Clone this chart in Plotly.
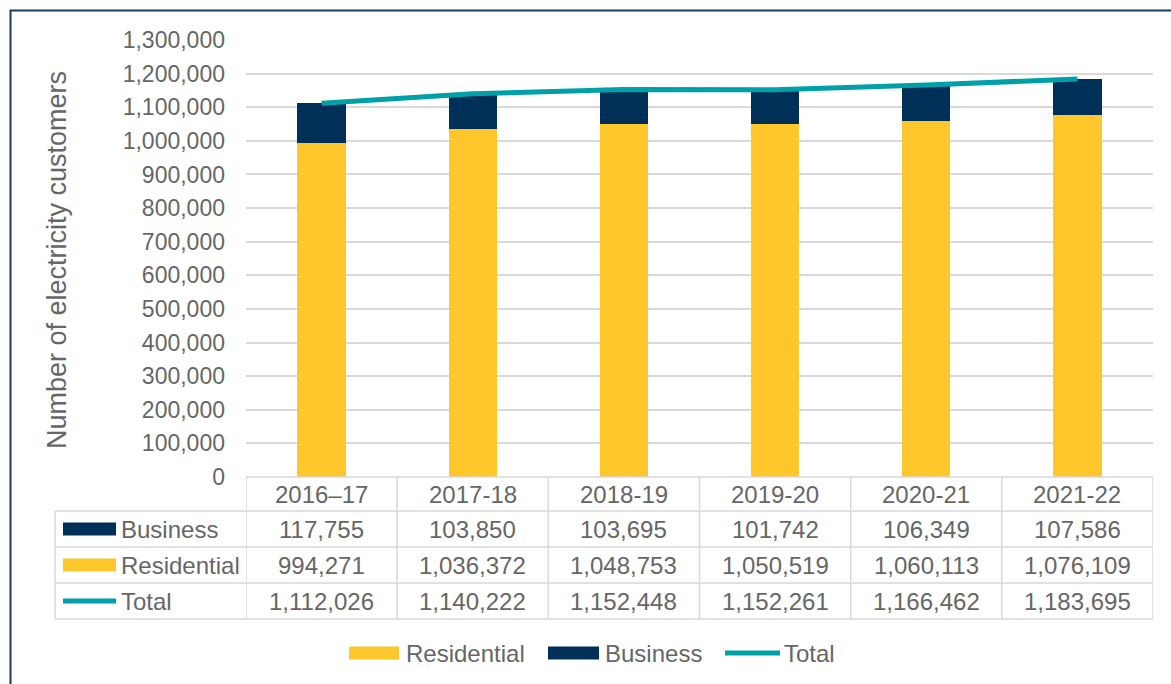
import plotly.graph_objects as go

# ---- data ----
categories = ["2016–17", "2017-18", "2018-19", "2019-20", "2020-21", "2021-22"]
business = [117755, 103850, 103695, 101742, 106349, 107586]
residential = [994271, 1036372, 1048753, 1050519, 1060113, 1076109]
total = [1112026, 1140222, 1152448, 1152261, 1166462, 1183695]
y_ticks = list(range(0, 1300001, 100000))

# ---- style ----
C_RES = "#FFC72C"
C_BUS = "#003057"
C_TOT = "#00A0A8"
C_TXT = "#666666"
C_GRID = "#D9D9D9"
C_FRAME = "#1B3A63"
FONT = "Liberation Sans, Arial, sans-serif"
FS = 23
FS_T = 24

W, H = 1171, 684
L, R, T, B = 246, 1153, 40, 477


def px2x(px):
    return (px - L) / (R - L)


def py2y(py):
    return (B - py) / (B - T)


fig = go.Figure()
fig.add_trace(go.Bar(x=categories, y=residential, name="Residential",
                     marker=dict(color=C_RES, line=dict(width=0))))
fig.add_trace(go.Bar(x=categories, y=business, name="Business",
                     marker=dict(color=C_BUS, line=dict(width=0))))
fig.add_trace(go.Scatter(x=categories, y=total, name="Total", mode="lines",
                         line=dict(color=C_TOT, width=5)))

shapes = []
annotations = []

# outer frame (cut off at right/bottom like the reference)
shapes.append(dict(type="rect", xref="paper", yref="paper",
                   x0=px2x(10.5), x1=px2x(1250), y0=py2y(760), y1=py2y(10.5),
                   line=dict(color=C_FRAME, width=2), layer="below"))

# table grid lines
tl = dict(color=C_GRID, width=1.5)
shapes.append(dict(type="line", xref="paper", yref="paper",
                   x0=px2x(L), x1=px2x(R), y0=py2y(477), y1=py2y(477), line=tl))
for ry in [511, 547, 583, 619]:
    shapes.append(dict(type="line", xref="paper", yref="paper",
                       x0=px2x(55), x1=px2x(R), y0=py2y(ry), y1=py2y(ry), line=tl))
shapes.append(dict(type="line", xref="paper", yref="paper",
                   x0=px2x(55), x1=px2x(55), y0=py2y(511), y1=py2y(619), line=tl))
for i in range(len(categories) + 1):
    shapes.append(dict(type="line", xref="x", yref="paper",
                       x0=i - 0.5, x1=i - 0.5, y0=py2y(477), y1=py2y(619), line=tl))

# table text
row_y = {"hdr": 494, "Business": 529, "Residential": 565, "Total": 601}
tfont = dict(family=FONT, size=FS_T, color=C_TXT)
for i, c in enumerate(categories):
    annotations.append(dict(x=c, xref="x", y=py2y(row_y["hdr"]), yref="paper",
                            text=c, showarrow=False, font=tfont,
                            xanchor="center", yanchor="middle"))
    for name, vals in [("Business", business), ("Residential", residential), ("Total", total)]:
        annotations.append(dict(x=c, xref="x", y=py2y(row_y[name]), yref="paper",
                                text=f"{vals[i]:,}", showarrow=False, font=tfont,
                                xanchor="center", yanchor="middle"))

# table row keys + labels
for name, col, kind in [("Business", C_BUS, "rect"), ("Residential", C_RES, "rect"), ("Total", C_TOT, "line")]:
    yc = row_y[name]
    if kind == "rect":
        shapes.append(dict(type="rect", xref="paper", yref="paper",
                           x0=px2x(63), x1=px2x(116), y0=py2y(yc + 6.5), y1=py2y(yc - 6.5),
                           fillcolor=col, line=dict(width=0)))
    else:
        shapes.append(dict(type="line", xref="paper", yref="paper",
                           x0=px2x(63), x1=px2x(116), y0=py2y(yc), y1=py2y(yc),
                           line=dict(color=col, width=5)))
    annotations.append(dict(x=px2x(119), xref="paper", y=py2y(yc), yref="paper",
                            text=name, showarrow=False, font=tfont,
                            xanchor="left", yanchor="middle"))

# bottom legend
ly = 653
for name, col, kind, x0, x1, xt in [("Residential", C_RES, "rect", 349, 399, 404),
                                    ("Business", C_BUS, "rect", 548, 599, 603),
                                    ("Total", C_TOT, "line", 725, 780, 782)]:
    if kind == "rect":
        shapes.append(dict(type="rect", xref="paper", yref="paper",
                           x0=px2x(x0), x1=px2x(x1), y0=py2y(ly + 6.5), y1=py2y(ly - 6.5),
                           fillcolor=col, line=dict(width=0)))
    else:
        shapes.append(dict(type="line", xref="paper", yref="paper",
                           x0=px2x(x0), x1=px2x(x1), y0=py2y(ly), y1=py2y(ly),
                           line=dict(color=col, width=5)))
    annotations.append(dict(x=px2x(xt), xref="paper", y=py2y(ly), yref="paper",
                            text=name, showarrow=False, font=tfont,
                            xanchor="left", yanchor="middle"))

# y-axis title
annotations.append(dict(x=px2x(57), xref="paper", y=py2y(260), yref="paper",
                        text="Number of electricity customers", textangle=-90,
                        showarrow=False, font=dict(family=FONT, size=27, color=C_TXT),
                        xanchor="center", yanchor="middle"))

fig.update_layout(
    width=W, height=H,
    margin=dict(l=L, r=W - R, t=T, b=H - B, pad=0),
    barmode="stack", bargap=0.68,
    showlegend=False,
    paper_bgcolor="white", plot_bgcolor="white",
    font=dict(family=FONT, size=FS, color=C_TXT),
    shapes=shapes, annotations=annotations,
)
fig.update_xaxes(type="category", range=[-0.5, len(categories) - 0.5],
                 showticklabels=False, showgrid=False, showline=False, zeroline=False)
fig.update_yaxes(range=[0, 1300000], tickvals=y_ticks, tickformat=",",
                 showgrid=True, gridcolor=C_GRID, gridwidth=1.5, zeroline=False,
                 showline=False, ticks="", ticklabelstandoff=20,
                 tickfont=dict(family=FONT, size=FS, color=C_TXT))

fig.write_html("out.html")
